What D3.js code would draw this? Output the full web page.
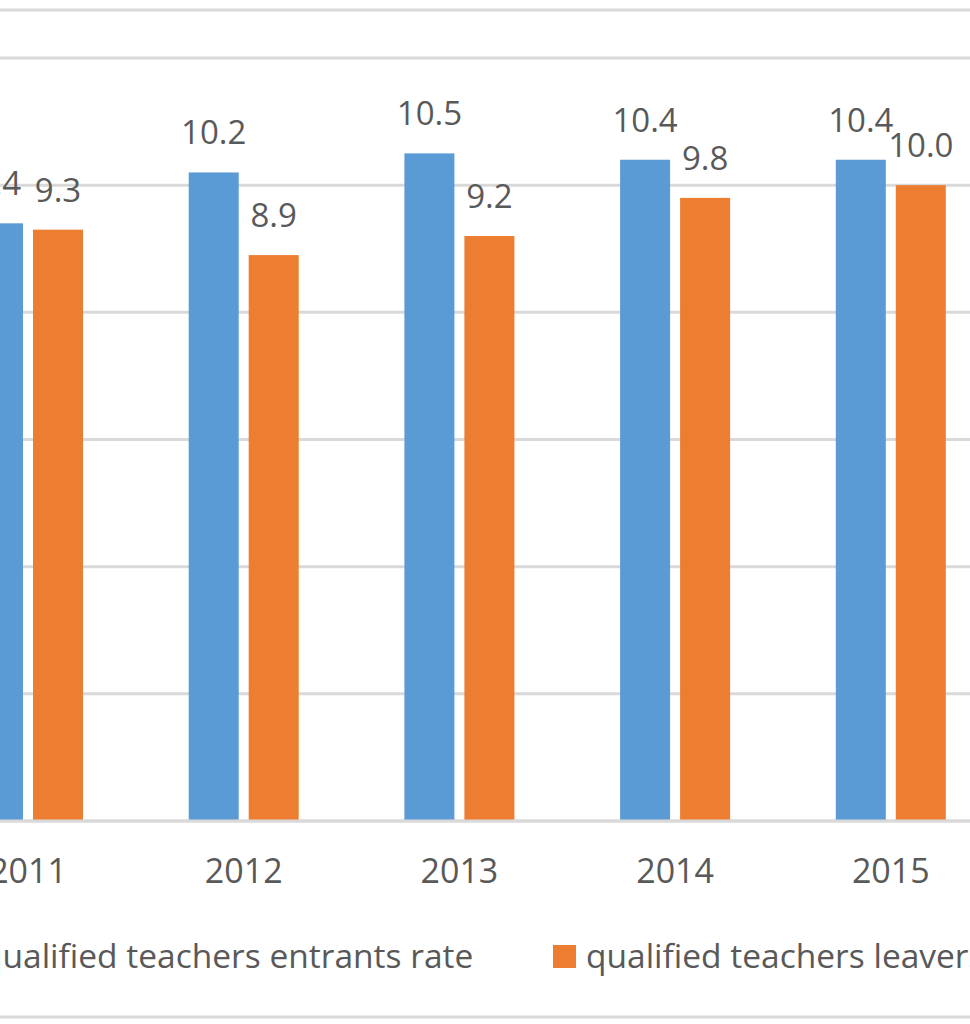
<!DOCTYPE html>
<html>
    <head>
        <meta charset="utf-8" />
        <script src="https://d3js.org/d3.v7.min.js"></script>
        <style>
            body {
                margin: 0;
                background: #fff;
            }

            text {
                font-family: "Open Sans", "Noto Sans", sans-serif;
                fill: #595959;
            }

            .grid line {
                stroke: #d9d9d9;
                stroke-width: 3px;
            }
        </style>
    </head>
    <body>
        <svg id="chart" width="970" height="1024"></svg>
        <script>
            var years = ["2011", "2012", "2013", "2014", "2015"];
            var series = ["qualified teachers entrants rate", "qualified teachers leavers rate"];
            var entrants = [9.4, 10.2, 10.5, 10.4, 10.4];
            var leavers = [9.3, 8.9, 9.2, 9.8, 10.0];
            var yTicks = [0, 2, 4, 6, 8, 10, 12];
            var colors = ["#5b9bd5", "#ed7d31"];

            var svg = d3.select("#chart");
            var width = 970;

            // the chart is cropped: the plot starts left of the page
            var step = 215.7;
            var firstCenter = 28;
            var x0 = d3.scaleBand()
                .domain(years)
                .range([firstCenter - step / 2, firstCenter - step / 2 + step * years.length]);

            var x1 = d3.scaleBand()
                .domain(series)
                .range([0, 110])
                .paddingInner(1 / 6);

            var y = d3.scaleLinear()
                .domain([0, 12])
                .range([821, 58]);

            // chart frame lines
            svg.append("line")
                .attr("x1", 0).attr("x2", width)
                .attr("y1", 10).attr("y2", 10)
                .attr("stroke", "#d9d9d9").attr("stroke-width", 3);

            svg.append("line")
                .attr("x1", 0).attr("x2", width)
                .attr("y1", 1017).attr("y2", 1017)
                .attr("stroke", "#d9d9d9").attr("stroke-width", 3);

            // gridlines
            svg.append("g")
                .attr("class", "grid")
                .selectAll("line")
                .data(yTicks)
                .enter().append("line")
                .attr("x1", 0)
                .attr("x2", width)
                .attr("y1", function(d) { return y(d); })
                .attr("y2", function(d) { return y(d); });

            var rows = years.map(function(yr, i) {
                return { year: yr, values: [entrants[i], leavers[i]] };
            });

            var groups = svg.selectAll(".group")
                .data(rows)
                .enter().append("g")
                .attr("class", "group")
                .attr("transform", function(d) {
                    return "translate(" + (x0(d.year) + (x0.bandwidth() - 110) / 2) + ",0)";
                });

            groups.selectAll("rect")
                .data(function(d) {
                    return d.values.map(function(v, j) { return { key: series[j], value: v, j: j }; });
                })
                .enter().append("rect")
                .attr("x", function(d) { return x1(d.key); })
                .attr("y", function(d) { return y(d.value); })
                .attr("width", x1.bandwidth())
                .attr("height", function(d) { return y(0) - y(d.value); })
                .attr("fill", function(d) { return colors[d.j]; });

            groups.selectAll(".label")
                .data(function(d) {
                    return d.values.map(function(v, j) { return { key: series[j], value: v }; });
                })
                .enter().append("text")
                .attr("class", "label")
                .attr("x", function(d) { return x1(d.key) + x1.bandwidth() / 2; })
                .attr("y", function(d) { return y(d.value) - 28; })
                .attr("font-size", 33)
                .style("text-anchor", "middle")
                .text(function(d) { return d.value.toFixed(1); });

            // axis line at zero
            svg.append("line")
                .attr("x1", 0).attr("x2", width)
                .attr("y1", y(0)).attr("y2", y(0))
                .attr("stroke", "#d9d9d9").attr("stroke-width", 3);

            // category labels
            svg.selectAll(".year")
                .data(years)
                .enter().append("text")
                .attr("class", "year")
                .attr("x", function(d) { return x0(d) + x0.bandwidth() / 2; })
                .attr("y", 883)
                .attr("font-size", 34)
                .style("text-anchor", "middle")
                .text(function(d) { return d; });

            // legend
            var legendX = [-51, 553];
            var legend = svg.selectAll(".legend")
                .data(series)
                .enter().append("g")
                .attr("class", "legend")
                .attr("transform", function(d, i) { return "translate(" + legendX[i] + ",945)"; });

            legend.append("rect")
                .attr("width", 23)
                .attr("height", 23)
                .attr("fill", function(d, i) { return colors[i]; });

            legend.append("text")
                .attr("x", 33)
                .attr("y", 23)
                .attr("font-size", 33.5)
                .text(function(d) { return d; });
        </script>
    </body>
</html>
